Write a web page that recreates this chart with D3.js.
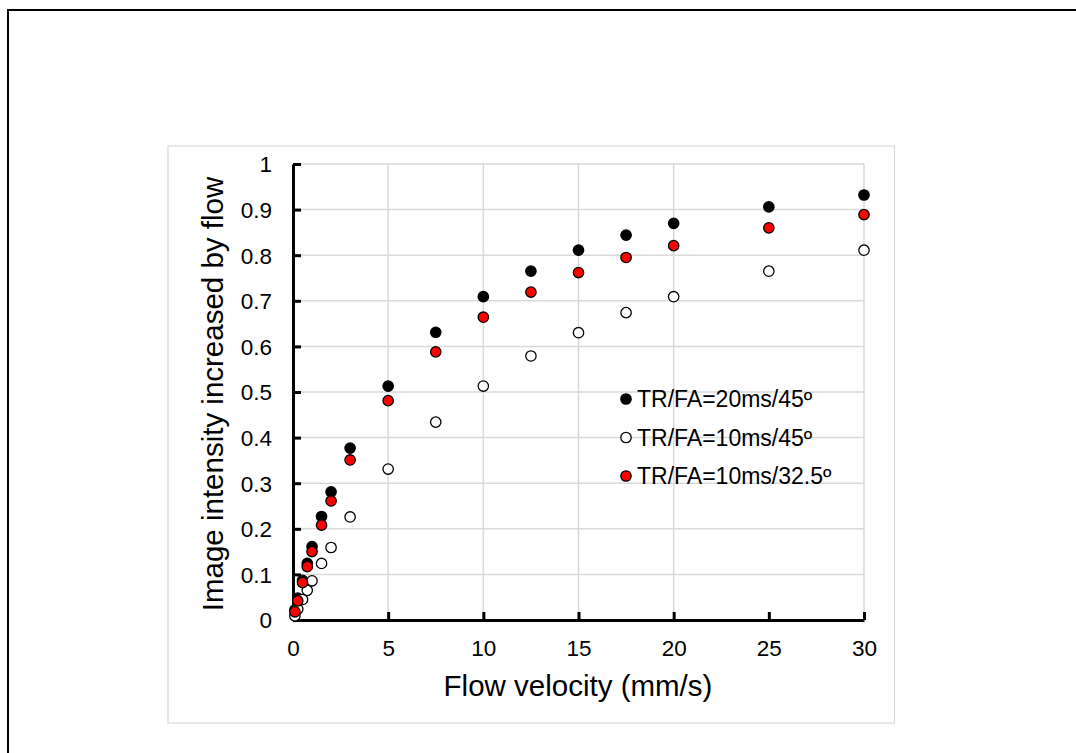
<!DOCTYPE html>
<html>
<head>
<meta charset="utf-8">
<script src="https://cdn.jsdelivr.net/npm/d3@7"></script>
<style>
  html, body { margin: 0; padding: 0; background: #fff; }
  svg { display: block; }
  text { font-family: Arial, "Liberation Sans", sans-serif; fill: #000; }
</style>
</head>
<body>
<svg id="chart" width="1076" height="753"></svg>
<script>
// ---- data ----
const velocities = [0.1, 0.25, 0.5, 0.75, 1, 1.5, 2, 3, 5, 7.5, 10, 12.5, 15, 17.5, 20, 25, 30];
const tr20fa45 = [0.022, 0.048, 0.087, 0.124, 0.161, 0.227, 0.281, 0.377, 0.513, 0.631, 0.709, 0.765, 0.811, 0.844, 0.870, 0.906, 0.932];
const tr10fa45 = [0.009, 0.024, 0.045, 0.065, 0.086, 0.124, 0.159, 0.226, 0.331, 0.434, 0.513, 0.579, 0.630, 0.674, 0.709, 0.765, 0.811];
const tr10fa325 = [0.018, 0.042, 0.082, 0.117, 0.150, 0.208, 0.261, 0.351, 0.481, 0.588, 0.664, 0.719, 0.762, 0.795, 0.821, 0.860, 0.889];
const seriesNames = ["TR/FA=20ms/45º", "TR/FA=10ms/45º", "TR/FA=10ms/32.5º"];
const seriesFills = ["#000000", "#ffffff", "#ff0000"];
const xTicks = [0, 5, 10, 15, 20, 25, 30];
const xGrid = [5, 10, 15, 20, 30];
const yTicks = [0, 0.1, 0.2, 0.3, 0.4, 0.5, 0.6, 0.7, 0.8, 0.9, 1];
const xTitle = "Flow velocity (mm/s)";
const yTitle = "Image intensity increased by flow";

const svg = d3.select("#chart");

// outer frame (top and left edges visible)
svg.append("path")
  .attr("d", "M8,753 L8,10 L1076,10")
  .attr("fill", "none").attr("stroke", "#000").attr("stroke-width", 2);

// chart area box
svg.append("rect")
  .attr("x", 168).attr("y", 146).attr("width", 726.5).attr("height", 577)
  .attr("fill", "none").attr("stroke", "#d9d9d9").attr("stroke-width", 1.2);

const x = d3.scaleLinear().domain([0, 30]).range([293, 864]);
const y = d3.scaleLinear().domain([0, 1]).range([620, 164]);

// gridlines
const grid = svg.append("g").attr("stroke", "#d9d9d9").attr("stroke-width", 1.5);
grid.selectAll("line.h").data(yTicks.filter(d => d > 0)).join("line")
  .attr("x1", x(0)).attr("x2", x(30))
  .attr("y1", d => y(d)).attr("y2", d => y(d));
grid.selectAll("line.v").data(xGrid).join("line")
  .attr("y1", y(0)).attr("y2", y(1))
  .attr("x1", d => x(d)).attr("x2", d => x(d));

// axes
const xAxis = d3.axisBottom(x).tickValues(xTicks).tickFormat(d3.format("d")).tickSizeInner(-8).tickSizeOuter(0).tickPadding(20);
const yAxis = d3.axisLeft(y).tickValues(yTicks).tickFormat(d => d === 0 ? "0" : d === 1 ? "1" : d3.format(".1f")(d)).tickSizeInner(-8).tickSizeOuter(0).tickPadding(21);

const gx = svg.append("g").attr("transform", `translate(0,${y(0)})`).call(xAxis);
const gy = svg.append("g").attr("transform", `translate(${x(0)},0)`).call(yAxis);
[gx, gy].forEach(g => {
  g.select(".domain").attr("stroke", "#000").attr("stroke-width", 3);
  g.selectAll(".tick line").attr("stroke", "#000").attr("stroke-width", 3);
  g.selectAll(".tick text").attr("font-size", 22.5).attr("font-family", "Arial, 'Liberation Sans', sans-serif").attr("fill", "#000");
});
gx.selectAll(".tick text").attr("dy", "0.71em");
gy.selectAll(".tick text").attr("dy", "0.35em");

// axis titles
svg.append("text").attr("x", 578).attr("y", 696).attr("text-anchor", "middle")
  .attr("font-size", 29.5).text(xTitle);
svg.append("text").attr("transform", `translate(223,394) rotate(-90)`).attr("text-anchor", "middle")
  .attr("font-size", 29.5).text(yTitle);

// series (draw black, then white, then red on top)
const allSeries = [tr20fa45, tr10fa45, tr10fa325];
allSeries.forEach((vals, i) => {
  svg.append("g").selectAll("circle").data(velocities.map((v, j) => [v, vals[j]])).join("circle")
    .attr("cx", d => x(d[0])).attr("cy", d => y(d[1])).attr("r", 5.2)
    .attr("fill", seriesFills[i]).attr("stroke", "#000").attr("stroke-width", 1.3);
});

// legend
const legend = svg.append("g");
seriesNames.forEach((name, i) => {
  const cy = 399 + i * 38.5;
  legend.append("circle").attr("cx", 626).attr("cy", cy).attr("r", 5.2)
    .attr("fill", seriesFills[i]).attr("stroke", "#000").attr("stroke-width", 1.3);
  legend.append("text").attr("x", 637).attr("y", cy + 8).attr("font-size", 23).text(name);
});
</script>
</body>
</html>
